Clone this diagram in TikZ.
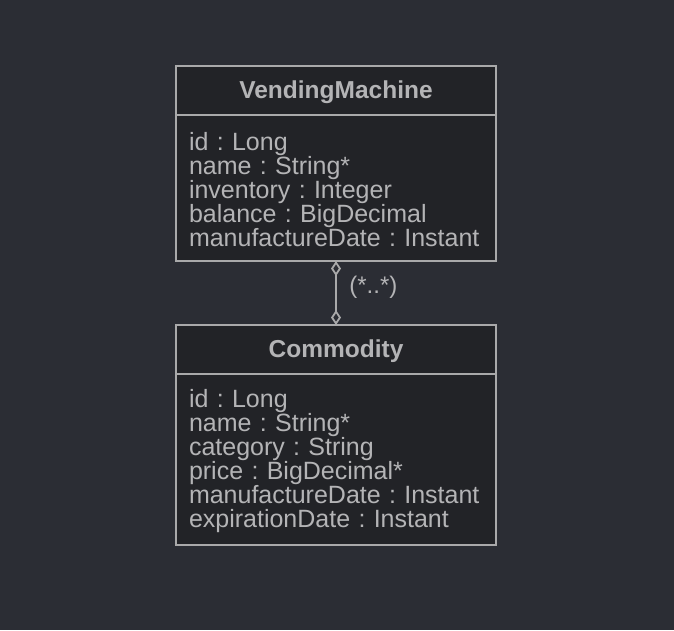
\documentclass[tikz,border=0pt]{standalone}
\usepackage{fontspec}
\setmainfont{Liberation Sans}
\frenchspacing
\usetikzlibrary{positioning,arrows.meta}
\definecolor{bgcol}{HTML}{2B2D34}
\definecolor{boxcol}{HTML}{222327}
\definecolor{linecol}{HTML}{A9A9AA}
\definecolor{txtcol}{HTML}{B4B4B6}
\newcommand{\firststrut}{\rule{0pt}{22pt}}
\tikzset{
  classhead/.style={draw=linecol, fill=boxcol, line width=2pt, text=txtcol,
    minimum width=320pt, minimum height=49pt, inner sep=0pt, outer sep=0pt,
    text height=17pt, text depth=2pt,
    font=\fontsize{24.5}{24}\selectfont\bfseries},
  classbody/.style={draw=linecol, fill=boxcol, line width=2pt, text=txtcol,
    minimum width=320pt, text width=294pt, inner xsep=13pt, inner ysep=0pt,
    outer sep=0pt, align=left, font=\fontsize{25}{24}\selectfont},
  assoc/.style={draw=linecol, line width=2pt,
    {Diamond[open, length=15pt, width=10pt, line width=1.8pt]}-{Diamond[open, length=15pt, width=10pt, line width=1.8pt]}}
}
\begin{document}
\begin{tikzpicture}[x=1pt,y=-1pt]%{{{
\useasboundingbox [fill=bgcol] (0,0) rectangle (674,630);
%
% VendingMachine
\node [classhead] (vmhead) at (336,90.5) {VendingMachine};
\node [classbody, below=0pt of vmhead, minimum height=146pt] (vmbody)
      {\firststrut id : Long\\ name : String*\\ inventory : Integer\\
       balance : BigDecimal\\ manufactureDate : Instant};
%
% Commodity
\node [classhead] (cmhead) at (336,349.5) {Commodity};
\node [classbody, below=0pt of cmhead, minimum height=171pt] (cmbody)
      {\firststrut id : Long\\ name : String*\\ category : String\\
       price : BigDecimal*\\ manufactureDate : Instant\\ expirationDate : Instant};
%
% Association (*..*)
\draw [assoc] (vmbody.south) -- node [right=9pt, yshift=6pt, text=txtcol,
      font=\fontsize{24}{24}\selectfont] (mult) {(*..*)} (cmhead.north);
%
\end{tikzpicture}
\end{document}
